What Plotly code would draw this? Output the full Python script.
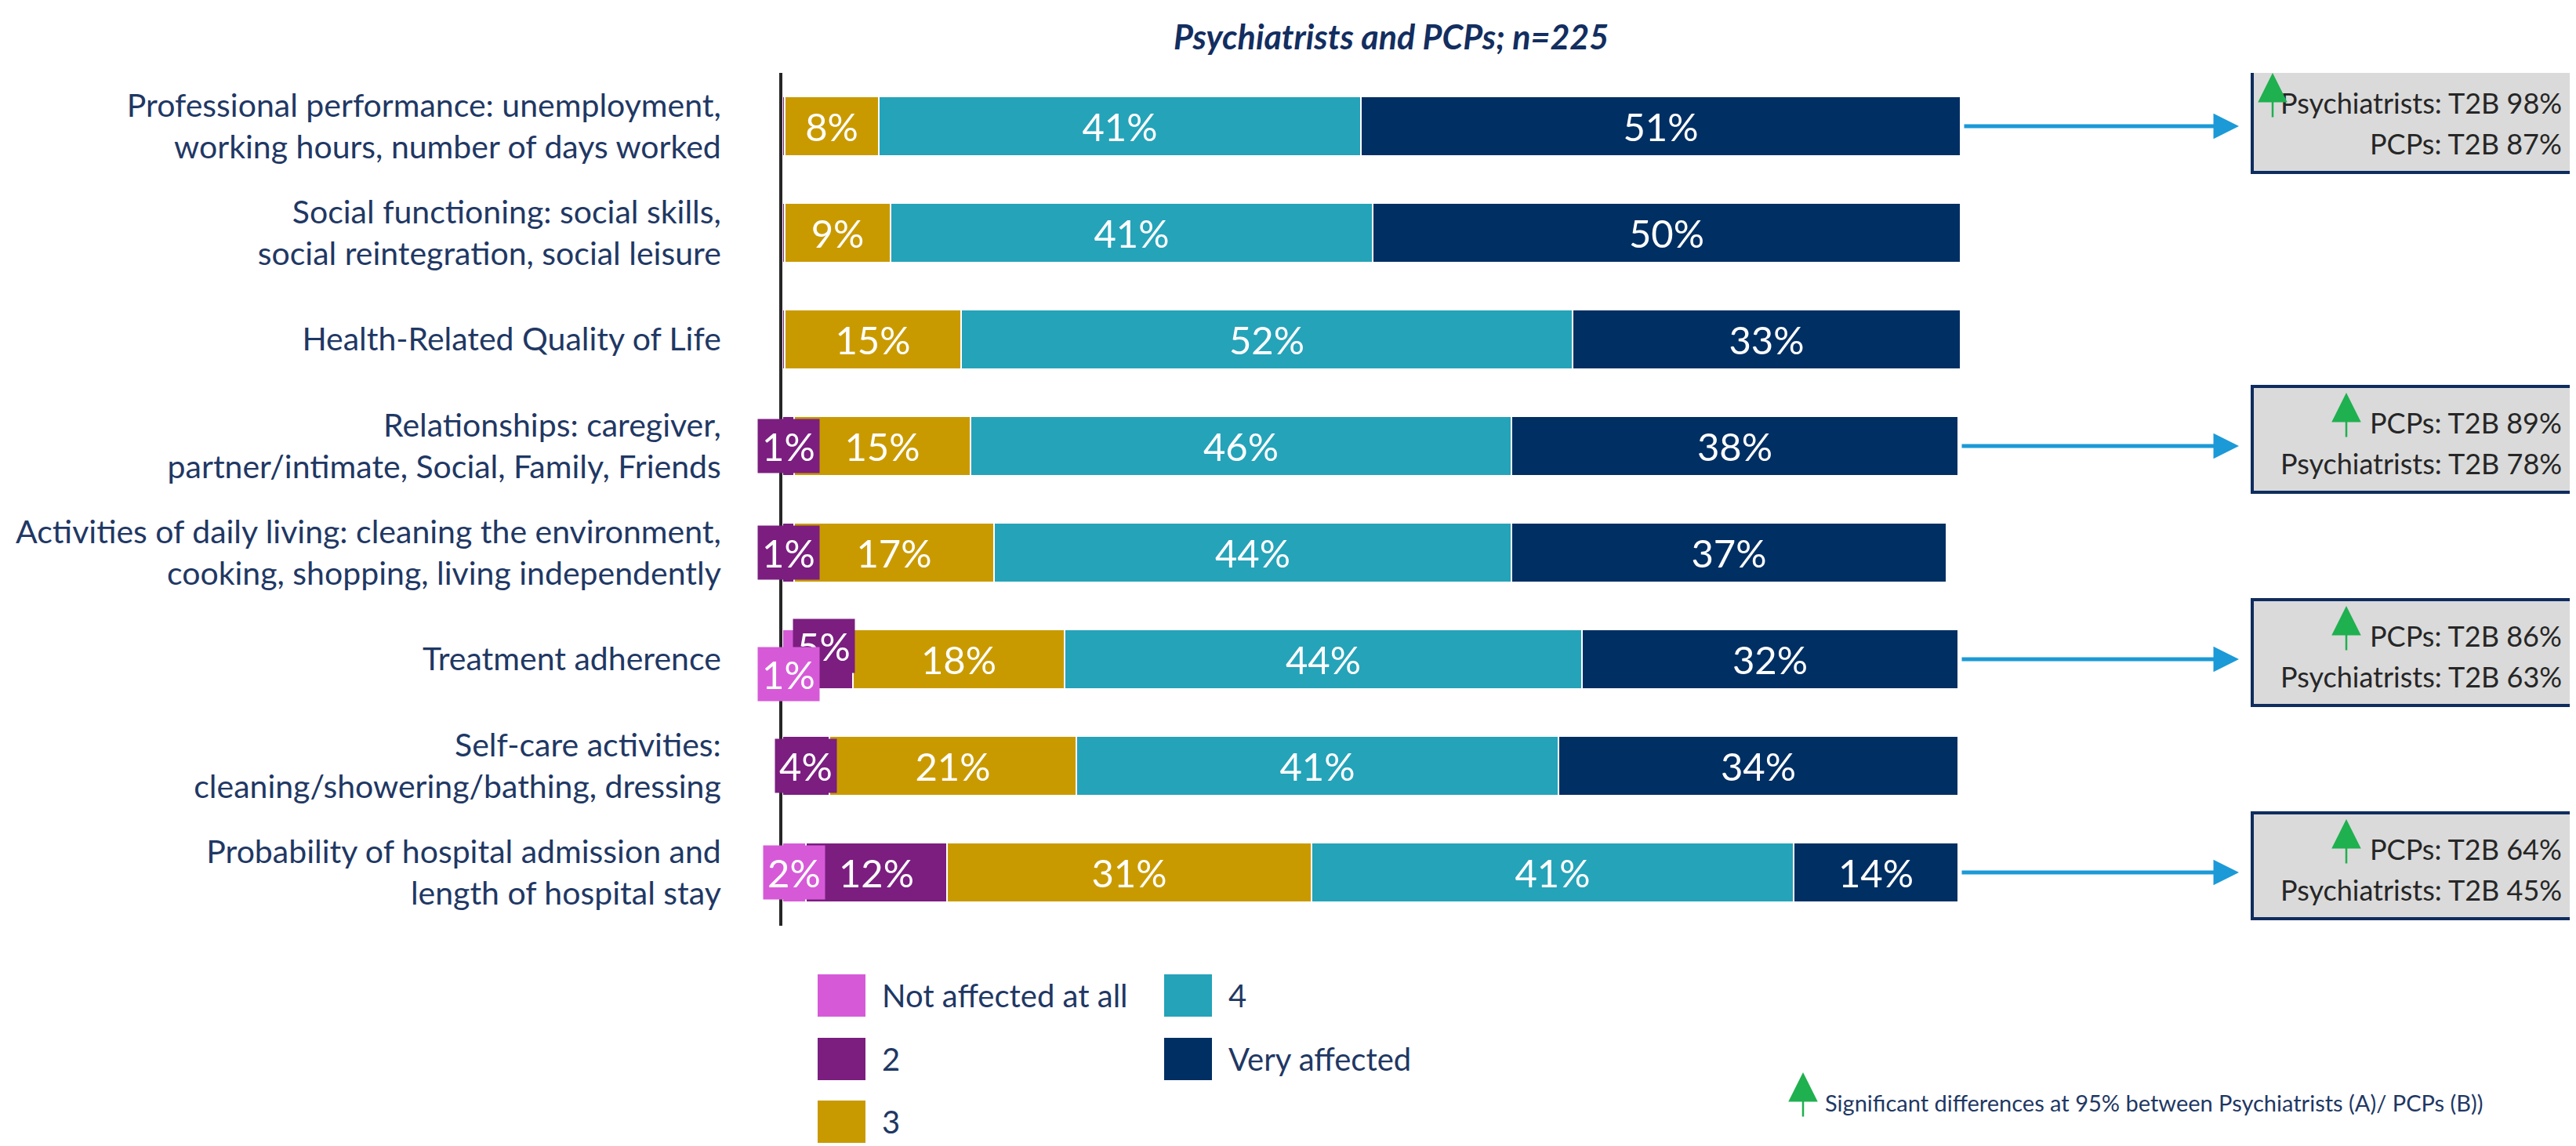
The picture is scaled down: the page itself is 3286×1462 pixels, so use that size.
import plotly.graph_objects as go

# ---- data ----
categories = [
    "Professional performance: unemployment,<br>working hours, number of days worked",
    "Social functioning: social skills,<br>social reintegration, social leisure",
    "Health-Related Quality of Life",
    "Relationships: caregiver,<br>partner/intimate, Social, Family, Friends",
    "Activities of daily living: cleaning the environment,<br>cooking, shopping, living independently",
    "Treatment adherence",
    "Self-care activities:<br>cleaning/showering/bathing, dressing",
    "Probability of hospital admission and<br>length of hospital stay",
]

not_affected = [0, 0, 0, 0, 0, 1, 0, 2]
score_2 = [0.2, 0.2, 0.2, 1, 1, 5, 4, 12]
score_3 = [8, 9, 15, 15, 17, 18, 21, 31]
score_4 = [41, 41, 52, 46, 44, 44, 41, 41]
very_affected = [51, 50, 33, 38, 37, 32, 34, 14]

series_names = ["Not affected at all", "2", "3", "4", "Very affected"]
series_values = [not_affected, score_2, score_3, score_4, very_affected]

# T2B call-out boxes (row index -> two lines)
t2b_rows = [0, 3, 5, 7]
t2b_line1 = ["Psychiatrists: T2B 98%", "PCPs: T2B 89%", "PCPs: T2B 86%", "PCPs: T2B 64%"]
t2b_line2 = ["PCPs: T2B 87%", "Psychiatrists: T2B 78%", "Psychiatrists: T2B 63%", "Psychiatrists: T2B 45%"]

title_text = "Psychiatrists and PCPs; n=225"
footnote_text = "Significant differences at 95% between Psychiatrists (A)/ PCPs (B))"

# ---- styling ----
colors = ["#D65AD8", "#7B1E80", "#C99A00", "#25A3B9", "#002F63"]
navy_text = "#1F3864"
FONT = "Lato"
W, H = 3286, 1462

AXIS_X = 990          # px where the value axis starts
PX_PER_PCT = 15.0     # px per 1 %
TOP, BOTTOM = 85, 1173
ROW_PX = (BOTTOM - TOP) / len(categories)
X_MAX = (W - AXIS_X) / PX_PER_PCT

def px(x):
    return x / W

def py(y):
    return 1 - y / H

def row_off(p):
    # pixel offset -> y-axis units
    return p / ROW_PX

ypos = list(range(len(categories)))

fig = go.Figure()

for name, vals, col in zip(series_names, series_values, colors):
    fig.add_trace(go.Bar(
        y=ypos, x=vals, orientation="h", name=name,
        marker=dict(color=col, line=dict(color="white", width=1.5)),
        text=[f"{v:.0f}%" if v >= 6 else "" for v in vals],
        textposition="inside", insidetextanchor="middle", textangle=0,
        textfont=dict(family=FONT, size=49, color="white"),
        showlegend=False, hoverinfo="x+name",
    ))

annotations = []
shapes = []

# small segment labels as coloured call-outs
shift = {(5, 0): 19, (5, 1): -17}
for s in reversed(range(len(series_names))):
    for r in ypos:
        v = series_values[s][r]
        if 1 <= v < 6:
            start = sum(series_values[k][r] for k in range(s))
            annotations.append(dict(
                x=start + v / 2, y=r + row_off(shift.get((r, s), 0)), xref="x", yref="y",
                xanchor="center", yanchor="middle",
                text=f"{v:.0f}%", showarrow=False, bgcolor=colors[s], borderpad=5,
                font=dict(family=FONT, size=49, color="white"),
            ))

# blue arrows and T2B boxes
for i, r in enumerate(t2b_rows):
    total = sum(series_values[k][r] for k in range(len(series_names)))
    annotations.append(dict(
        x=(2848 - AXIS_X) / PX_PER_PCT, y=r, xref="x", yref="y",
        ax=total + 0.2, ay=r, axref="x", ayref="y",
        text="", showarrow=True, arrowhead=2, arrowwidth=5, arrowsize=1.3,
        arrowcolor="#1B9AD7", standoff=0,
    ))
    shapes.append(dict(
        type="rect", xref="paper", yref="y",
        x0=px(2865), x1=px(3276), y0=r - row_off(76), y1=r + row_off(59),
        fillcolor="#DADADA", line=dict(color="#0F2D5E", width=4), layer="below",
    ))
    for line, off in ((t2b_line1[i], -30), (t2b_line2[i], 22)):
        annotations.append(dict(
            x=px(3262), y=r + row_off(off), xref="paper", yref="y",
            xanchor="right", yanchor="middle", text=line, showarrow=False,
            font=dict(family=FONT, size=36, color="#262626"),
        ))
    arrow_x = 2891 if t2b_line1[i].startswith("Psych") else 2985
    annotations.append(dict(
        x=px(arrow_x), y=r - row_off(68), xref="paper", yref="y",
        ax=0, ay=58, text="", showarrow=True, arrowhead=2, arrowwidth=2.5,
        arrowsize=3, arrowcolor="#1FB04F", standoff=0,
    ))

# legend (two columns, column-major like the original)
legend_cols = [1035, 1477]
legend_rows = [1262, 1343, 1423]
for k, (name, col) in enumerate(zip(series_names, colors)):
    cx = legend_cols[k // 3]
    cy = legend_rows[k % 3]
    shapes.append(dict(
        type="rect", xref="paper", yref="paper",
        x0=px(cx), x1=px(cx + 61), y0=py(cy + 27), y1=py(cy - 27),
        fillcolor=col, line=dict(width=0),
    ))
    annotations.append(dict(
        x=px(cx + 80), y=py(cy), xref="paper", yref="paper",
        xanchor="left", yanchor="middle",
        text=name, showarrow=False, font=dict(family=FONT, size=40, color=navy_text),
    ))

# title
annotations.append(dict(
    x=px(1766), y=py(38), xref="paper", yref="paper",
    xanchor="center", yanchor="middle",
    text=f"<b><i>{title_text}</i></b>", showarrow=False,
    font=dict(family=FONT, size=43, color="#132E60"),
))

# footnote with green arrow
annotations.append(dict(
    x=px(2292), y=py(1360), xref="paper", yref="paper",
    ax=0, ay=58, text="", showarrow=True, arrowhead=2, arrowwidth=2.5,
    arrowsize=3, arrowcolor="#1FB04F", standoff=0,
))
annotations.append(dict(
    x=px(2318), y=py(1398), xref="paper", yref="paper",
    xanchor="left", yanchor="middle",
    text=footnote_text, showarrow=False, font=dict(family=FONT, size=29, color=navy_text),
))

fig.update_layout(
    width=W, height=H, autosize=False,
    margin=dict(l=0, r=0, t=0, b=0),
    paper_bgcolor="white", plot_bgcolor="white",
    barmode="stack", bargap=1 - 76 / ROW_PX,
    annotations=annotations, shapes=shapes,
    showlegend=False,
)
fig.update_xaxes(domain=[px(AXIS_X), 1], range=[0, X_MAX], visible=False,
                 automargin=False)
fig.update_yaxes(
    domain=[py(BOTTOM), py(TOP)], range=[len(categories) - 0.5, -0.5],
    tickvals=ypos, ticktext=categories, showgrid=False, zeroline=False,
    showline=True, linecolor="#262626", linewidth=4,
    ticks="", ticklabelstandoff=66, automargin=False,
    tickfont=dict(family=FONT, size=41, color=navy_text),
)

fig.write_html("out.html")
